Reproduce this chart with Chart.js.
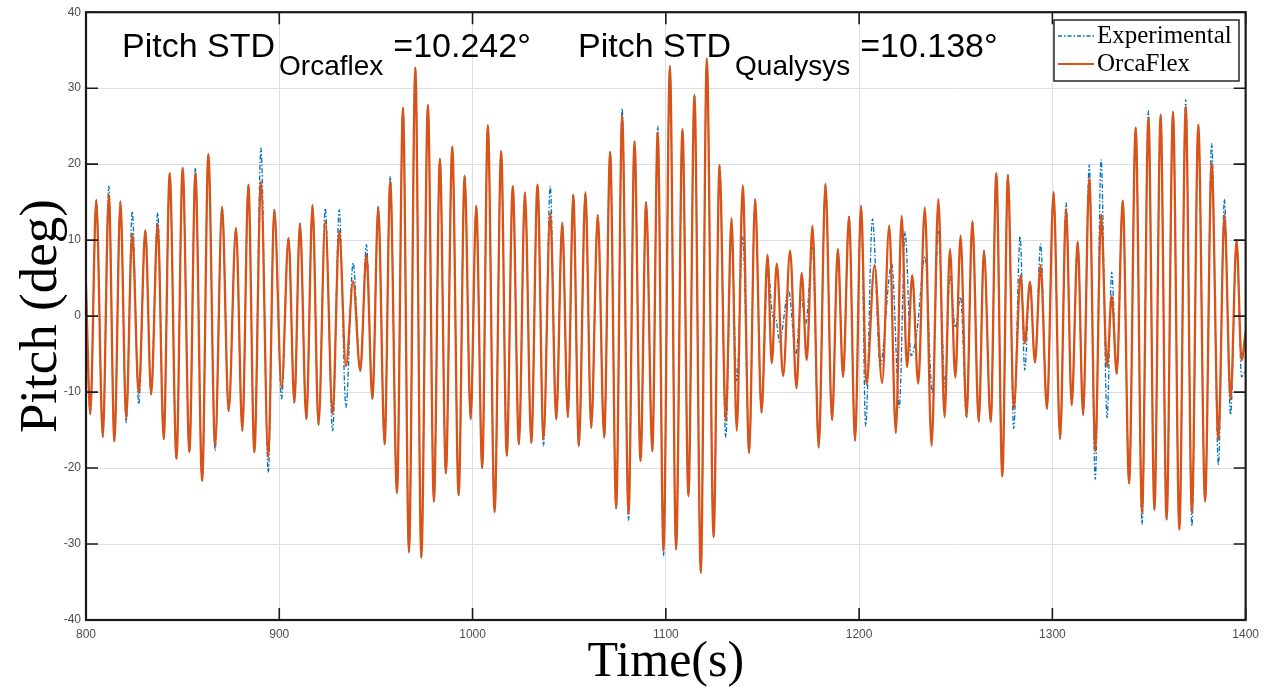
<!DOCTYPE html>
<html>
<head>
<meta charset="utf-8">
<title>Pitch</title>
<script src="https://cdn.jsdelivr.net/npm/chart.js@4.4.1/dist/chart.umd.min.js"></script>
<style>
  html, body { margin: 0; padding: 0; background: #fff; }
  #wrap { width: 1266px; height: 693px; }
</style>
</head>
<body>
<div id="wrap"><canvas id="pitchChart" width="1266" height="693"></canvas></div>
<script>
// tick values
const xTicks = [800, 900, 1000, 1100, 1200, 1300, 1400];
const yTicks = [-40, -30, -20, -10, 0, 10, 20, 30, 40];

// std values shown in the header
const stdOrcaflex = "10.242";
const stdQualysys = "10.138";

// OrcaFlex: turning points (time s, pitch deg)
const orcaTime = [800.0, 802.2, 805.3, 808.7, 811.8, 814.7, 817.8, 820.8, 823.9, 827.3,
  830.7, 833.7, 837.1, 840.2, 843.3, 846.8, 850.0, 853.5, 856.6, 860.1,
  863.3, 866.8, 870.4, 873.8, 877.6, 880.9, 884.0, 887.1, 890.5, 894.3,
  897.4, 901.2, 904.8, 907.8, 910.7, 914.0, 917.2, 920.3, 923.8, 927.6,
  931.0, 934.5, 938.2, 941.9, 945.1, 948.2, 951.2, 954.5, 957.4, 960.9,
  964.0, 967.1, 970.4, 973.5, 976.9, 980.0, 983.1, 986.2, 989.5, 992.8,
  995.9, 999.0, 1001.9, 1005.0, 1007.9, 1011.4, 1014.8, 1017.7, 1020.8, 1024.0,
  1027.1, 1030.4, 1033.6, 1036.7, 1040.2, 1043.3, 1046.4, 1049.3, 1052.1, 1055.0,
  1058.4, 1061.4, 1064.8, 1068.1, 1071.2, 1074.3, 1077.4, 1080.7, 1083.8, 1086.9,
  1089.8, 1093.0, 1095.8, 1098.8, 1102.1, 1105.3, 1108.6, 1111.7, 1114.8, 1118.1,
  1121.2, 1124.7, 1127.8, 1131.0, 1134.0, 1136.7, 1139.8, 1143.1, 1146.2, 1149.5,
  1152.6, 1154.8, 1157.4, 1160.7, 1164.3, 1167.6, 1170.3, 1172.9, 1175.9, 1179.1,
  1182.6, 1186.0, 1189.0, 1191.7, 1194.8, 1197.9, 1201.0, 1203.8, 1208.0, 1211.9,
  1215.6, 1219.0, 1222.0, 1224.8, 1227.5, 1230.6, 1234.0, 1237.5, 1241.0, 1244.2,
  1247.0, 1249.8, 1252.5, 1255.6, 1258.6, 1261.9, 1264.6, 1268.1, 1271.0, 1274.1,
  1277.0, 1280.0, 1283.6, 1285.7, 1288.4, 1291.0, 1293.9, 1297.2, 1300.6, 1304.0,
  1307.1, 1310.0, 1313.1, 1315.9, 1319.1, 1322.2, 1325.2, 1328.3, 1330.7, 1333.3,
  1336.4, 1339.7, 1343.1, 1346.4, 1349.7, 1352.8, 1356.0, 1359.1, 1362.4, 1365.7,
  1369.0, 1372.2, 1375.5, 1379.0, 1382.4, 1385.9, 1389.0, 1392.2, 1395.3, 1397.9,
  1400.0];
const orcaPitch = [4, -12.9, 15.3, -15.9, 16.0, -16.5, 15.1, -13.5, 10.9, -10.2,
  11.3, -10.3, 12.2, -16.2, 18.8, -18.8, 19.5, -17.9, 18.8, -21.7,
  21.3, -17.1, 14.4, -12.5, 11.6, -15.1, 17.3, -17.9, 17.7, -18.6,
  14.0, -9.4, 10.3, -11.4, 12.2, -13.6, 14.6, -14.3, 12.5, -12.9,
  11.2, -6.6, 4.6, -7.2, 8.1, -10.9, 14.4, -16.9, 17.8, -23.3,
  27.4, -31.1, 32.7, -31.8, 27.8, -24.4, 20.7, -20.7, 22.3, -23.6,
  18.5, -13.6, 14.5, -20.0, 25.1, -25.8, 21.7, -18.4, 17.1, -16.9,
  16.3, -16.7, 17.3, -16.2, 13.6, -13.6, 12.3, -13.3, 16.0, -17.1,
  16.3, -14.7, 13.3, -16.0, 21.6, -25.3, 26.4, -26.0, 23.0, -19.1,
  15.0, -17.8, 24.2, -30.9, 32.9, -30.7, 24.6, -23.7, 29.1, -33.8,
  33.9, -29.1, 19.9, -13.8, 12.9, -15.1, 17.2, -18.0, 15.4, -12.7,
  8.1, -6.2, 6.9, -7.9, 8.6, -9.5, 5.7, -5.8, 11.9, -17.3,
  17.4, -13.7, 8.8, -8.0, 13.1, -16.4, 14.5, -9.0, 6.7, -8.8,
  11.9, -15.4, 13.2, -6.7, 5.4, -8.9, 14.3, -17.1, 15.4, -13.3,
  8.8, -8.1, 10.6, -13.3, 12.5, -13.9, 8.6, -13.9, 18.8, -21.1,
  18.6, -12.2, 5.4, -3.6, 4.5, -6.1, 6.7, -12.2, 16.3, -16.2,
  14.1, -11.7, 9.8, -13.0, 18.2, -17.8, 13.4, -6.7, 2.7, -7.6,
  15.2, -22.0, 24.8, -25.9, 26.2, -25.5, 26.5, -26.8, 26.9, -28.1,
  27.6, -25.9, 25.2, -24.4, 20.2, -16.3, 13.4, -11.0, 10.0, -5.8,
  -2.0];

// Experimental (Qualysys): turning points
const expTime = [800.0, 802.2, 805.3, 808.7, 811.8, 814.7, 817.8, 820.8, 823.9, 827.3,
  830.7, 833.7, 837.1, 840.2, 843.3, 846.8, 850.0, 853.5, 856.6, 860.1,
  863.3, 866.8, 870.4, 873.8, 877.6, 880.9, 884.0, 887.1, 890.5, 894.3,
  897.4, 901.2, 904.8, 907.8, 910.7, 914.0, 917.2, 920.3, 923.8, 927.6,
  931.0, 934.5, 938.2, 941.9, 945.1, 948.2, 951.2, 954.5, 957.4, 960.9,
  964.0, 967.1, 970.4, 973.5, 976.9, 980.0, 983.1, 986.2, 989.5, 992.8,
  995.9, 999.0, 1001.9, 1005.0, 1007.9, 1011.4, 1014.8, 1017.7, 1020.8, 1024.0,
  1027.1, 1030.4, 1033.6, 1036.7, 1040.2, 1043.3, 1046.4, 1049.3, 1052.1, 1055.0,
  1058.4, 1061.4, 1064.8, 1068.1, 1071.2, 1074.3, 1077.4, 1080.7, 1083.8, 1086.9,
  1089.8, 1093.0, 1095.8, 1098.8, 1102.1, 1105.3, 1108.6, 1111.7, 1114.8, 1118.1,
  1121.2, 1124.7, 1127.8, 1131.0, 1134.0, 1136.7, 1139.8, 1143.1, 1146.2, 1149.5,
  1152.8, 1155.3, 1156.9, 1158.8, 1163.5, 1167.3, 1170.0, 1172.4, 1175.9, 1179.1,
  1182.6, 1186.0, 1189.0, 1191.7, 1194.8, 1197.9, 1201.0, 1203.4, 1206.9, 1210.9,
  1216.9, 1220.8, 1223.8, 1226.9, 1229.8, 1234.1, 1237.9, 1241.0, 1244.5, 1247.0,
  1249.8, 1252.5, 1255.6, 1258.6, 1261.9, 1264.6, 1268.1, 1271.0, 1274.1, 1277.0,
  1280.0, 1283.3, 1285.7, 1288.4, 1291.0, 1293.9, 1297.2, 1300.6, 1304.0, 1307.1,
  1310.0, 1313.1, 1315.9, 1319.1, 1322.2, 1325.2, 1328.3, 1330.7, 1333.3, 1336.4,
  1339.7, 1343.1, 1346.4, 1349.7, 1352.8, 1356.0, 1359.1, 1362.4, 1365.7, 1369.0,
  1372.2, 1375.5, 1379.0, 1382.4, 1385.9, 1389.0, 1392.2, 1395.3, 1397.9, 1400.0];
const expPitch = [4, -12.9, 15.3, -15.9, 17.1, -16.5, 15.1, -14.0, 13.8, -11.6,
  11.3, -10.3, 13.6, -16.2, 18.8, -18.8, 19.5, -17.9, 19.5, -21.7,
  21.3, -17.7, 14.4, -12.5, 11.6, -15.1, 17.3, -17.9, 22.1, -20.6,
  14.0, -10.9, 10.3, -11.4, 12.2, -13.6, 14.6, -14.3, 14.2, -15.1,
  14.0, -12.0, 7.0, -7.2, 9.4, -10.9, 14.4, -16.9, 18.4, -23.3,
  27.4, -31.1, 32.7, -31.8, 27.8, -24.4, 20.7, -20.7, 22.3, -23.6,
  18.5, -13.6, 14.5, -20.0, 25.1, -25.8, 21.7, -18.4, 17.1, -16.9,
  16.3, -16.7, 17.3, -17.1, 17.1, -13.6, 12.3, -13.3, 16.0, -17.1,
  16.3, -14.7, 13.3, -16.0, 21.6, -25.3, 27.3, -26.9, 23.0, -19.1,
  15.0, -17.8, 25.0, -31.6, 32.9, -30.7, 24.6, -23.7, 29.1, -33.8,
  33.9, -29.1, 19.9, -16.0, 10.4, -8.5, 10.5, -18.0, 15.4, -12.7,
  6.7, 0.0, -0.3, -3.4, 3.4, -5.0, 2.5, -1.0, 9.0, -17.3,
  17.4, -13.7, 8.8, -8.0, 13.1, -16.4, 14.5, -14.5, 12.8, -6.5,
  6.9, -12.0, 11.1, -5.2, -2.3, 7.8, -10.2, 11.1, -9.4, 5.4,
  -1.5, 2.5, -13.3, 12.5, -13.9, 8.6, -13.9, 18.8, -21.1, 18.6,
  -14.8, 10.5, -7.1, 4.5, -6.1, 9.5, -12.2, 16.3, -16.2, 14.9,
  -11.7, 9.8, -13.0, 19.9, -21.5, 20.6, -13.4, 5.8, -7.6, 15.2,
  -22.0, 24.8, -27.4, 27.0, -25.5, 26.5, -26.8, 26.9, -28.1, 28.5,
  -27.6, 25.2, -24.4, 22.7, -19.6, 15.4, -13.0, 10.0, -8.0, -7.0];

const BLUE = "#0072BD";
const ORANGE = "#D95319";
const SANS = "'Liberation Sans', Arial, sans-serif";
const SERIF = "'Liberation Serif', 'Times New Roman', serif";

function toPoints(times, values) {
    return times.map((t, i) => ({ x: t, y: values[i] }));
}

// MATLAB style box with inward ticks, header texts and legend
const decorations = {
    id: "decorations",
    afterDraw(chart) {
        const { ctx, chartArea: a, scales: { x, y } } = chart;
        ctx.save();

        ctx.strokeStyle = "#1a1a1a";
        ctx.lineWidth = 1.6;
        const tick = 12;
        ctx.beginPath();
        xTicks.forEach(v => {
            const px = x.getPixelForValue(v);
            ctx.moveTo(px, a.bottom); ctx.lineTo(px, a.bottom - tick);
            ctx.moveTo(px, a.top); ctx.lineTo(px, a.top + tick);
        });
        yTicks.forEach(v => {
            const py = y.getPixelForValue(v);
            ctx.moveTo(a.left, py); ctx.lineTo(a.left + tick, py);
            ctx.moveTo(a.right, py); ctx.lineTo(a.right - tick, py);
        });
        ctx.stroke();
        ctx.lineWidth = 2.2;
        ctx.strokeRect(a.left, a.top, a.right - a.left, a.bottom - a.top);

        // header texts
        ctx.fillStyle = "#000";
        ctx.textBaseline = "alphabetic";
        ctx.textAlign = "left";
        function stdText(x0, sub, val) {
            ctx.font = "34px " + SANS;
            ctx.fillText("Pitch STD", x0, 57);
            let xx = x0 + ctx.measureText("Pitch STD").width + 4;
            ctx.font = "28px " + SANS;
            ctx.fillText(sub, xx, 75);
            xx += ctx.measureText(sub).width + 10;
            ctx.font = "34px " + SANS;
            ctx.fillText("=" + val + "°", xx, 57);
        }
        stdText(122, "Orcaflex", stdOrcaflex);
        stdText(578, "Qualysys", stdQualysys);

        // legend
        const lx = 1054, ly = 20, lw = 185, lh = 61;
        ctx.fillStyle = "#fff";
        ctx.fillRect(lx, ly, lw, lh);
        ctx.strokeStyle = "#262626";
        ctx.lineWidth = 1.5;
        ctx.strokeRect(lx, ly, lw, lh);

        ctx.lineWidth = 1.3;
        ctx.strokeStyle = BLUE;
        ctx.setLineDash([4, 2, 1.5, 2]);
        ctx.beginPath(); ctx.moveTo(lx + 4, 36); ctx.lineTo(lx + 40, 36); ctx.stroke();
        ctx.setLineDash([]);
        ctx.lineWidth = 2;
        ctx.strokeStyle = ORANGE;
        ctx.beginPath(); ctx.moveTo(lx + 4, 64); ctx.lineTo(lx + 40, 64); ctx.stroke();

        ctx.fillStyle = "#000";
        ctx.font = "25px " + SERIF;
        ctx.fillText("Experimental", lx + 43, 43);
        ctx.fillText("OrcaFlex", lx + 43, 71);

        ctx.restore();
    }
};

new Chart(document.getElementById("pitchChart"), {
    type: "line",
    data: {
        datasets: [{
            label: "Experimental",
            data: toPoints(expTime, expPitch),
            borderColor: BLUE,
            borderWidth: 1.3,
            borderDash: [5, 2, 1.5, 2],
            pointRadius: 0,
            cubicInterpolationMode: "monotone",
            order: 2
        }, {
            label: "OrcaFlex",
            data: toPoints(orcaTime, orcaPitch),
            borderColor: ORANGE,
            borderWidth: 2.3,
            pointRadius: 0,
            cubicInterpolationMode: "monotone",
            order: 1
        }]
    },
    options: {
        responsive: false,
        animation: false,
        devicePixelRatio: 1,
        layout: { padding: { left: 0, right: 19, top: 11, bottom: 0 } },
        plugins: {
            legend: { display: false },
            tooltip: { enabled: false }
        },
        scales: {
            x: {
                type: "linear",
                min: 800,
                max: 1400,
                afterBuildTicks: s => { s.ticks = xTicks.map(v => ({ value: v })); },
                afterFit: s => { s.height = 73; },
                grid: { color: "#dedede", lineWidth: 1, drawTicks: false },
                border: { display: false },
                ticks: {
                    padding: 7,
                    maxRotation: 0,
                    autoSkip: false,
                    color: "#4d4d4d",
                    font: { family: SANS, size: 12 },
                    callback: v => String(v)
                },
                title: {
                    display: true,
                    text: "Time(s)",
                    color: "#000",
                    font: { family: SERIF, size: 50 },
                    padding: { top: 0, bottom: 0 }
                }
            },
            y: {
                min: -40,
                max: 40,
                afterBuildTicks: s => { s.ticks = yTicks.map(v => ({ value: v })); },
                afterFit: s => { s.width = 86; },
                grid: { color: "#dedede", lineWidth: 1, drawTicks: false },
                border: { display: false },
                ticks: {
                    padding: 5,
                    color: "#4d4d4d",
                    font: { family: SANS, size: 12 },
                    callback: v => String(v)
                },
                title: {
                    display: true,
                    text: "Pitch (deg)",
                    color: "#000",
                    font: { family: SERIF, size: 53 },
                    padding: { top: 10, bottom: 0 }
                }
            }
        }
    },
    plugins: [decorations]
});
</script>
</body>
</html>
